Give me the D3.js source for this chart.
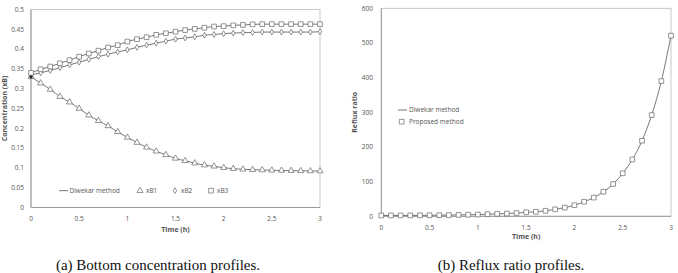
<!DOCTYPE html>
<html><head><meta charset="utf-8">
<script src="https://cdn.jsdelivr.net/npm/d3@7"></script>
<style>
body{margin:0;background:#fff;}
svg text{font-family:"Open Sans","Liberation Sans",sans-serif;}
</style></head>
<body><svg id="c" width="678" height="273"></svg>
<script>
const time = d3.range(31).map(i => +(i*0.1).toFixed(1));
const xB1 = [0.330,0.314,0.298,0.280,0.266,0.250,0.233,0.219,0.206,0.191,0.177,0.164,0.152,0.142,0.133,0.124,0.118,0.112,0.107,0.104,0.1005,0.098,0.0965,0.0955,0.0947,0.094,0.0935,0.093,0.0925,0.0922,0.092];
const xB2 = [0.335,0.340,0.346,0.353,0.360,0.367,0.374,0.381,0.387,0.393,0.398,0.4045,0.410,0.415,0.420,0.425,0.428,0.431,0.435,0.437,0.439,0.4406,0.4415,0.442,0.443,0.443,0.443,0.443,0.443,0.443,0.444];
const xB3 = [0.340,0.349,0.356,0.364,0.372,0.381,0.389,0.396,0.404,0.410,0.419,0.425,0.430,0.436,0.440,0.444,0.448,0.451,0.454,0.457,0.458,0.460,0.461,0.4625,0.463,0.463,0.463,0.463,0.463,0.463,0.463];
const reflux = [2.3,2.4,2.5,2.6,2.8,3,3.2,3.5,4,4.5,5,6,7,8,9.5,11.5,13,16,20,25,32,42,54,71,93,124,164,218,292,390,521];
const xTicks = [0,0.5,1,1.5,2,2.5,3];
const xTickLabels = ["0","0.5","1","1.5","2","2.5","3"];
const concTicks = [0,0.05,0.1,0.15,0.2,0.25,0.3,0.35,0.4,0.45,0.5];
const refluxTicks = [0,100,200,300,400,500,600];

const svg = d3.select("#c");
const txt = "#555", ax = "#999", ln = "#555", mk = "#666";

function markerPath(type){
  if(type==="tri") return d3.symbol(d3.symbolTriangle, 16)();
  if(type==="dia") return d3.symbol(d3.symbolDiamond, 10)();
  return d3.symbol(d3.symbolSquare, 22)();
}

function panel(g, cfg){
  const x = d3.scaleLinear().domain([0,3]).range([cfg.x0,cfg.x1]);
  const y = d3.scaleLinear().domain(cfg.ydom).range([cfg.y0,cfg.y1]);
  g.append("rect").attr("x",cfg.x0).attr("y",cfg.y1).attr("width",cfg.x1-cfg.x0).attr("height",cfg.y0-cfg.y1)
    .attr("fill","none").attr("stroke","#bbb").attr("stroke-width",0.8);
  g.append("line").attr("x1",cfg.x0).attr("x2",cfg.x0).attr("y1",cfg.y1).attr("y2",cfg.y0).attr("stroke",ax).attr("stroke-width",1);
  g.append("line").attr("x1",cfg.x0).attr("x2",cfg.x1).attr("y1",cfg.y0).attr("y2",cfg.y0).attr("stroke",ax).attr("stroke-width",1);
  g.selectAll(".yt").data(cfg.yticks).join("text").attr("x",cfg.ylabX).attr("y",d=>y(d)).attr("dy","0.35em")
    .attr("text-anchor","end").attr("font-size",6.5).attr("fill",txt).text(d=>d);
  g.selectAll(".xt").data(xTicks).join("text").attr("x",d=>x(d)).attr("y",cfg.xlabY).attr("dy","0.35em")
    .attr("text-anchor","middle").attr("font-size",6.5).attr("fill",txt).text((d,i)=>xTickLabels[i]);
  g.append("text").attr("x",(cfg.x0+cfg.x1)/2).attr("y",cfg.xTitleY).attr("dy","0.35em").attr("text-anchor","middle")
    .attr("font-size",7).attr("font-weight","bold").attr("fill",txt).text("Time (h)");
  g.append("text").attr("transform",`translate(${cfg.yTitleX},${(cfg.y0+cfg.y1)/2}) rotate(-90)`).attr("dy","0.35em")
    .attr("text-anchor","middle").attr("font-size",7).attr("font-weight","bold").attr("fill",txt).text(cfg.ytitle);
  const line = d3.line().x((d,i)=>x(time[i])).y(d=>y(d)).curve(d3.curveMonotoneX);
  cfg.series.forEach(s=>{
    g.append("path").attr("d",line(s.v)).attr("fill","none").attr("stroke",ln).attr("stroke-width",0.8);
  });
  cfg.series.forEach(s=>{
    g.selectAll(null).data(s.v).join("path").attr("d",markerPath(s.m))
      .attr("transform",(d,i)=>`translate(${x(time[i])},${y(d)})`)
      .attr("fill","#fff").attr("stroke",mk).attr("stroke-width",0.7);
  });
  return {x,y};
}

const L = svg.append("g");
const pl = panel(L,{x0:31,x1:320,y0:207.5,y1:9.5,ydom:[0,0.5],yticks:concTicks,ylabX:24,xlabY:218.7,xTitleY:230,
  yTitleX:5,ytitle:"Concentration (xB)",series:[{v:xB1,m:"tri"},{v:xB2,m:"dia"},{v:xB3,m:"sq"}]});
L.append("circle").attr("cx",pl.x(0)).attr("cy",pl.y(xB1[0])).attr("r",1.6).attr("fill","#222");

const ly = 190.7;
L.append("line").attr("x1",59).attr("x2",68).attr("y1",ly).attr("y2",ly).attr("stroke",ln).attr("stroke-width",0.8);
L.append("text").attr("x",69.5).attr("y",ly).attr("dy","0.35em").attr("font-size",6.5).attr("fill",txt).text("Diwekar method");
[["tri",140,"xB1"],["dia",175,"xB2"],["sq",211,"xB3"]].forEach(([m,xx,t])=>{
  L.append("path").attr("d",markerPath(m)).attr("transform",`translate(${xx},${ly})`).attr("fill","#fff").attr("stroke",mk).attr("stroke-width",0.7);
  L.append("text").attr("x",xx+6).attr("y",ly).attr("dy","0.35em").attr("font-size",6.5).attr("fill",txt).text(t);
});

const R = svg.append("g");
panel(R,{x0:381.3,x1:671,y0:216.3,y1:8.3,ydom:[0,600],yticks:refluxTicks,ylabX:373,xlabY:227.3,xTitleY:237,
  yTitleX:355,ytitle:"Reflux ratio",series:[{v:reflux,m:"sq"}]});
R.append("line").attr("x1",398).attr("x2",407).attr("y1",110).attr("y2",110).attr("stroke",ln).attr("stroke-width",0.8);
R.append("text").attr("x",409).attr("y",110).attr("dy","0.35em").attr("font-size",6.5).attr("fill",txt).text("Diwekar method");
R.append("path").attr("d",markerPath("sq")).attr("transform","translate(401.7,121.7)").attr("fill","#fff").attr("stroke",mk).attr("stroke-width",0.7);
R.append("text").attr("x",409).attr("y",121.7).attr("dy","0.35em").attr("font-size",6.5).attr("fill",txt).text("Proposed method");

svg.append("text").attr("x",158).attr("y",270).attr("text-anchor","middle")
  .style("font-family","'Liberation Serif',serif").attr("font-size",15).attr("fill","#111").text("(a) Bottom concentration profiles.");
svg.append("text").attr("x",511).attr("y",270).attr("text-anchor","middle")
  .style("font-family","'Liberation Serif',serif").attr("font-size",15).attr("fill","#111").text("(b) Reflux ratio profiles.");
</script></body></html>
